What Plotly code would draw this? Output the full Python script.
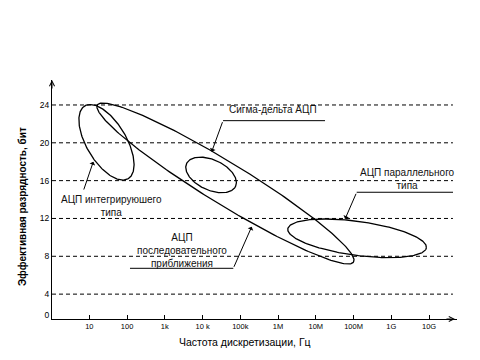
import numpy as np
import plotly.graph_objects as go

# ---------------- data ----------------
# ADC families drawn as ellipses: major axis from (freq_start, bits_start) to (freq_end, bits_end)
adc_types = ["интегрирующие", "последовательного приближения / сигма-дельта", "сигма-дельта (узкая)", "параллельные"]
freq_start_hz = [7.6, 16.4, 3.77e3, 1.81e6]
freq_end_hz = [107.0, 1.0e8, 7.5e4, 8.5e9]
bits_start = [23.9, 24.0, 17.8, 10.9]
bits_end = [16.2, 7.4, 15.4, 8.9]
half_width_bits = [2.1, 2.2, 1.6, 1.8]

x_tick_vals = [1e1, 1e2, 1e3, 1e4, 1e5, 1e6, 1e7, 1e8, 1e9, 1e10]
x_tick_text = ["10", "100", "1k", "10 k", "100k", "1M", "10M", "100M", "1G", "10G"]
y_grid_levels = [4, 8, 12, 16, 20, 24]
y_tick_vals = [1.79, 4, 8, 12, 16, 20, 24]
y_tick_text = ["0", "4", "8", "12", "16", "20", "24"]

# ---------------- layout geometry ----------------
W, H = 480, 360
OFF = 8  # page body margin compensation
ML, MR, MT, MB = 52 - OFF, 23 + OFF, 80 - OFF, 41 + OFF
XR = [0.012, 10.74]     # log10 range
YR = [1.37, 26.64]
pw, ph = W - ML - MR, H - MT - MB
k = (pw / (XR[1] - XR[0])) / (ph / (YR[1] - YR[0]))  # bits per decade visually equal

fig = go.Figure()

t = np.linspace(0, 2 * np.pi, 241)
for fs, fe, bs, be, hw in zip(freq_start_hz, freq_end_hz, bits_start, bits_end, half_width_bits):
    p1 = np.array([np.log10(fs) * k, bs])
    p2 = np.array([np.log10(fe) * k, be])
    c = (p1 + p2) / 2
    d = (p2 - p1) / 2
    n = np.array([-d[1], d[0]]) / np.hypot(*d)
    pts = c[:, None] + np.outer(d, np.cos(t)) + np.outer(n * hw, np.sin(t))
    fig.add_trace(go.Scatter(x=10 ** (pts[0] / k), y=pts[1], mode="lines",
                             line=dict(color="black", width=1.3),
                             hoverinfo="skip", showlegend=False))

# dashed level lines
for lv in y_grid_levels:
    fig.add_shape(type="line", xref="paper", yref="y", x0=0, x1=0.99, y0=lv, y1=lv,
                  line=dict(color="black", width=1, dash="4px,3px"))

# underlines for labels (log10 freq, bits)
underlines = [
    (4.542, 7.244, 22.34),
    (8.083, 10.634, 14.77),
    (2.078, 4.815, 6.73),
]
for x0, x1, yy in underlines:
    fig.add_trace(go.Scatter(x=[10 ** x0, 10 ** x1], y=[yy, yy], mode="lines",
                             line=dict(color="black", width=1), hoverinfo="skip", showlegend=False))

# arrows: tail -> tip (log10 freq, bits)
arrows = [
    ((4.542, 22.34), (4.243, 19.06)),
    ((8.083, 14.77), (7.775, 11.94)),
    ((0.841, 14.90), (1.106, 18.00)),
    ((4.815, 6.73), (5.302, 11.13)),
]
ann = []
for (tx, ty), (hx, hy) in arrows:
    ann.append(dict(x=hx, y=hy, ax=tx, ay=ty, xref="x", yref="y", axref="x", ayref="y",
                    text="", showarrow=True, arrowhead=1, arrowsize=1, arrowwidth=1,
                    arrowcolor="black", standoff=0, startstandoff=0))

lab_font = dict(family="Liberation Sans, Arial, sans-serif", size=10, color="#111111")
labels = [
    ("Сигма-дельта АЦП", 5.879, 23.47),
    ("АЦП параллельного<br>типа", 9.429, 16.18),
    ("АЦП интегрируюшего<br>типа", 1.59, 13.33),
    ("АЦП<br>последовательного<br>приближения", 3.448, 8.65),
]
for txt, lx, ly in labels:
    ann.append(dict(x=lx, y=ly, xref="x", yref="y", text=txt, showarrow=False,
                    font=lab_font, xanchor="center", yanchor="middle", align="center"))

# axis titles
ann.append(dict(x=0, y=112 / ph, xref="paper", yref="paper", xshift=-30,
                text="<b>Эффективная разрядность, бит</b>",
                textangle=-90, showarrow=False, xanchor="center", yanchor="middle",
                font=dict(family="Liberation Sans, Arial, sans-serif", size=10, color="black")))
ann.append(dict(x=(245 - 52) / pw, y=0, xref="paper", yref="paper", yshift=-22.7,
                text="Частота дискретизации, Гц", showarrow=False,
                xanchor="center", yanchor="middle",
                font=dict(family="Liberation Sans, Arial, sans-serif", size=10.5, color="black")))

# axis arrowheads
ann.append(dict(x=0.995, y=0, xref="paper", yref="paper", ax=-10, ay=0, text="", showarrow=True,
                arrowhead=5, arrowsize=1, arrowwidth=1, arrowcolor="black", standoff=0))
ann.append(dict(x=0, y=1, xref="paper", yref="paper", ax=0, ay=10, text="", showarrow=True,
                arrowhead=5, arrowsize=1, arrowwidth=1, arrowcolor="black", standoff=0))

fig.update_layout(
    width=W, height=H, margin=dict(l=ML, r=MR, t=MT, b=MB),
    paper_bgcolor="white", plot_bgcolor="white",
    annotations=ann, showlegend=False,
    xaxis=dict(type="log", range=XR, tickvals=x_tick_vals, ticktext=x_tick_text,
               ticks="inside", ticklen=4, tickcolor="black", tickwidth=1,
               showline=True, linecolor="black", linewidth=1, showgrid=False, zeroline=False,
               tickfont=dict(family="Liberation Sans, Arial, sans-serif", size=7.5, color="black")),
    yaxis=dict(range=YR, tickvals=y_tick_vals, ticktext=y_tick_text, ticks="",
               showline=True, linecolor="black", linewidth=1, showgrid=False, zeroline=False,
               tickfont=dict(family="Liberation Sans, Arial, sans-serif", size=8.5, color="black")),
)

fig.write_html("out.html")
